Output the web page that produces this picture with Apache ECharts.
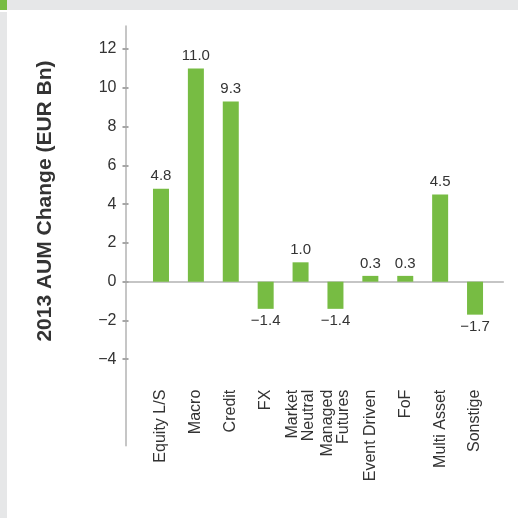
<!DOCTYPE html>
<html>
<head>
<meta charset="utf-8">
<script src="https://cdn.jsdelivr.net/npm/echarts@6/dist/echarts.min.js"></script>
<style>
html,body{margin:0;padding:0;background:#fff;}
#chart{width:518px;height:518px;}
</style>
</head>
<body>
<div id="chart"></div>
<script>
const categories = ['Equity L/S', 'Macro', 'Credit', 'FX', 'Market\nNeutral', 'Managed\nFutures', 'Event Driven', 'FoF', 'Multi Asset', 'Sonstige'];
const values = [4.8, 11.0, 9.3, -1.4, 1.0, -1.4, 0.3, 0.3, 4.5, -1.7];
const yTicks = [-4, -2, 0, 2, 4, 6, 8, 10, 12];
const yTitle = '2013 AUM Change (EUR Bn)';

const FONT = "'Liberation Sans', Arial, Helvetica, sans-serif";
const GREEN = '#77bc43';
const GRAY_BG = '#e6e7e8';
const TEXT = '#333333';
const AXIS = '#b3b3b3';

const catIdx = categories.map((c, i) => i);
const barData = values.map((v, i) => ({
  value: [i, v],
  label: { position: v < 0 ? 'bottom' : 'top' }
}));

const chart = echarts.init(document.getElementById('chart'), null, { renderer: 'canvas' });
const xMin = -1.017, xMax = 9.81;
const yMin = -8.46, yMax = 13.19;

chart.setOption({
  animation: false,
  backgroundColor: '#ffffff',
  grid: { left: 125.5, right: 14.7, top: 26, bottom: 72.3, containLabel: false },
  graphic: [
    { type: 'rect', shape: { x: 0, y: 0, width: 518, height: 10 }, style: { fill: GRAY_BG }, silent: true },
    { type: 'rect', shape: { x: 0, y: 12, width: 7, height: 506 }, style: { fill: GRAY_BG }, silent: true },
    { type: 'rect', shape: { x: 0, y: 0, width: 7, height: 10 }, style: { fill: GREEN }, silent: true },
    {
      type: 'text', x: 45, y: 201, rotation: Math.PI / 2,
      style: { text: yTitle, fill: TEXT, font: 'bold 21px ' + FONT, align: 'center', verticalAlign: 'middle' },
      silent: true
    }
  ],
  xAxis: [
    {
      type: 'value', min: xMin, max: xMax,
      axisLine: { show: true, onZero: true, lineStyle: { color: AXIS, width: 1.5 } },
      axisTick: { show: false }, axisLabel: { show: false }, splitLine: { show: false }
    },
    {
      type: 'value', min: xMin, max: xMax, position: 'bottom', offset: -64,
      axisLine: { show: false, onZero: false }, axisTick: { show: false }, splitLine: { show: false },
      axisLabel: {
        show: true, rotate: 90, margin: 8, customValues: catIdx,
        formatter: v => categories[Math.round(v)] || '',
        color: TEXT, fontSize: 16, fontFamily: FONT, lineHeight: 16
      }
    }
  ],
  yAxis: [
    {
      type: 'value', min: yMin, max: yMax,
      axisLine: { show: true, onZero: false, lineStyle: { color: AXIS, width: 1.5 } },
      axisTick: { show: true, customValues: yTicks, length: 3, lineStyle: { color: '#a6a6a6', width: 2 } },
      axisLabel: { show: true, customValues: yTicks, margin: 9, color: TEXT, fontSize: 16, fontFamily: FONT,
        formatter: v => String(v).replace('-', '\u2212') },
      splitLine: { show: false }
    },
    {
      type: 'value', min: yMin, max: yMax,
      axisLine: { show: false, onZero: false },
      axisTick: { show: true, inside: true, customValues: yTicks, length: 3, lineStyle: { color: '#a6a6a6', width: 2 } },
      axisLabel: { show: false }, splitLine: { show: false }, position: 'left'
    }
  ],
  series: [{
    type: 'bar',
    xAxisIndex: 0, yAxisIndex: 0,
    barWidth: 16,
    itemStyle: { color: GREEN },
    label: {
      show: true, distance: 5, color: TEXT, fontSize: 15, fontFamily: FONT,
      formatter: p => p.value[1].toFixed(1).replace('-', '\u2212')
    },
    data: barData
  }]
});
</script>
</body>
</html>
